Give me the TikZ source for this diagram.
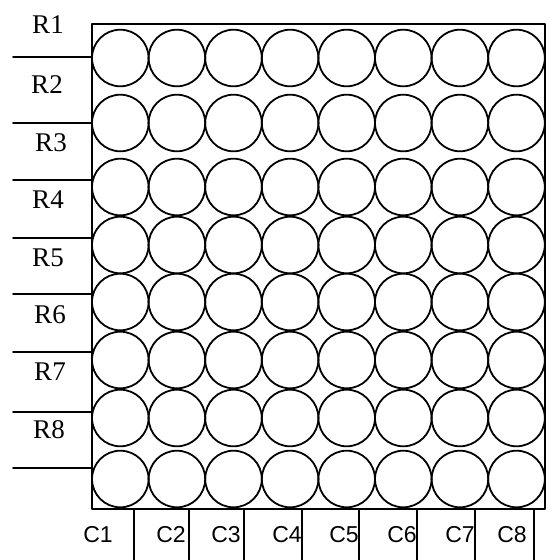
\documentclass[tikz,border=0pt]{standalone}
\usepackage{fontspec}
\setmainfont{Liberation Serif}
\setsansfont{Liberation Sans}
\begin{document}
\begin{tikzpicture}[x=1pt, y=-1pt, line cap=round, line join=round,
    led/.style={circle, draw, line width=1.8pt, minimum size=56.6pt, inner sep=0pt},
    wire/.style={line width=1.8pt},
    rowlab/.style={font=\fontsize{27}{29}\selectfont},
    collab/.style={font=\sffamily\fontsize{23}{26}\selectfont}]
	% Define window bounds
	\def\fl{92} \def\fr{545}
	\def\ft{24} \def\fb{509}
	\def\cw{56.6}
	\useasboundingbox (0,0) rectangle (547,560);
	
	% Outer frame of the dot matrix
	\draw[wire, line width=2pt] (\fl,\ft) rectangle (\fr,\fb);
	
	% Grid of 8 x 8 dots
	\foreach \r/\y in {1/58,2/123,3/187,4/245,5/302,6/360,7/418,8/479}
	  \foreach \c in {1,...,8}
	    \node[led] (d\r\c) at ({\fl+\cw*(\c-0.5)},\y) {};
	
	% Row wires coming in from the left
	\foreach \i/\y in {1/57,2/123,3/180,4/238,5/294,6/352,7/412,8/468} {
	  \coordinate (w\i) at (13,\y);
	  \coordinate (f\i) at (\fl,\y);
	  \draw[wire] (w\i) -- (f\i);
	}
	
	% Row labels
	\foreach \i/\x/\y in {1/48/25,2/47/85,3/51/143,4/48/200,5/48/258,6/50/315,7/50/372,8/49/430}
	  \node[rowlab] (r\i) at (\x,\y) {R\i};
	
	% Column wires going down from the frame
	\foreach \j/\x in {1/134,2/189,3/244,4/302,5/359,6/417,7/475,8/534} {
	  \coordinate (t\j) at (\x,\fb);
	  \coordinate (b\j) at (\x,560);
	  \draw[wire] (t\j) -- (b\j);
	}
	
	% Column labels
	\foreach \j/\x in {1/98,2/171,3/226,4/287,5/344,6/402,7/460,8/512}
	  \node[collab] (c\j) at (\x,535) {C\j};
\end{tikzpicture}
\end{document}
